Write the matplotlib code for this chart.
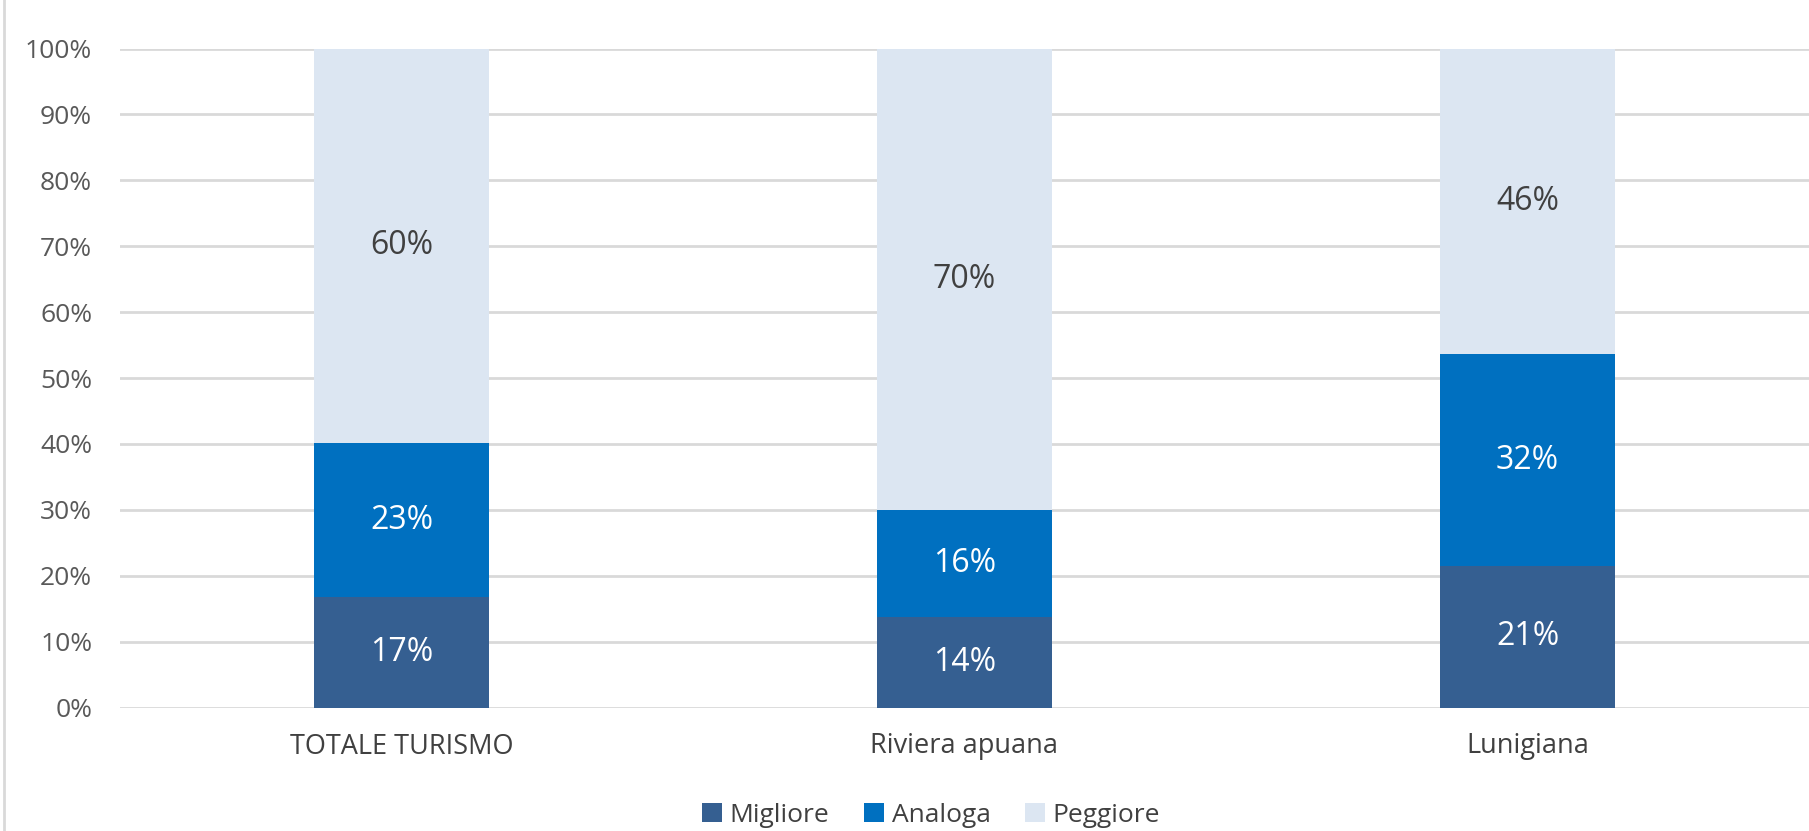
import matplotlib
matplotlib.use("Agg")
import matplotlib.pyplot as plt
import numpy as np

categories = ["TOTALE TURISMO", "Riviera apuana", "Lunigiana"]
series_names = ["Migliore", "Analoga", "Peggiore"]
migliore = [16.8, 13.7, 21.5]
analoga = [23.3, 16.2, 32.1]
peggiore = [59.9, 70.1, 46.4]
labels_m = ["17%", "14%", "21%"]
labels_a = ["23%", "16%", "32%"]
labels_p = ["60%", "70%", "46%"]
yticks = [0, 10, 20, 30, 40, 50, 60, 70, 80, 90, 100]

colors = ["#355F91", "#0070C0", "#DCE6F2"]
text_colors = ["white", "white", "#404040"]

plt.rcParams['font.family'] = ['Open Sans', 'DejaVu Sans']

fig = plt.figure(figsize=(18.09, 8.31), dpi=100)
ax = fig.add_axes([120/1809, 1-707.5/831, 1-120/1809, (707.5-48.5)/831])

x = np.arange(len(categories))
width = 0.31
bottom = np.zeros(len(categories))
for vals, labs, name, col, tc in zip([migliore, analoga, peggiore],
                                      [labels_m, labels_a, labels_p],
                                      series_names, colors, text_colors):
    vals = np.array(vals)
    ax.bar(x, vals, width, bottom=bottom, color=col, label=name, zorder=3)
    for xi, b, v, l in zip(x, bottom, vals, labs):
        ax.text(xi, b + v/2, l, ha='center', va='center', color=tc,
                fontsize=23, zorder=4)
    bottom = bottom + vals

ax.set_xlim(-0.5, 2.5)
ax.set_ylim(0, 100)
ax.set_yticks(yticks)
ax.set_yticklabels([f"{t}%" for t in yticks], color="#595959", fontsize=19)
ax.set_xticks(x)
ax.set_xticklabels(categories, color="#404040", fontsize=19.5)
ax.tick_params(axis='both', length=0)
ax.tick_params(axis='y', pad=20)
ax.tick_params(axis='x', pad=18)
ax.grid(axis='y', color="#D9D9D9", linewidth=2, zorder=0)
for s in ax.spines.values():
    s.set_visible(False)

fig.legend(loc='center', bbox_to_anchor=(931/1809, 1-815/831), ncol=3,
           frameon=False, fontsize=19, handlelength=0.75, handleheight=0.75,
           handletextpad=0.3, columnspacing=1.3, labelcolor="#404040")

fig.add_artist(plt.Line2D([0.002, 0.002], [0, 1], color="#D9D9D9", linewidth=2,
                          transform=fig.transFigure))

fig.savefig("out.png", dpi=100)
